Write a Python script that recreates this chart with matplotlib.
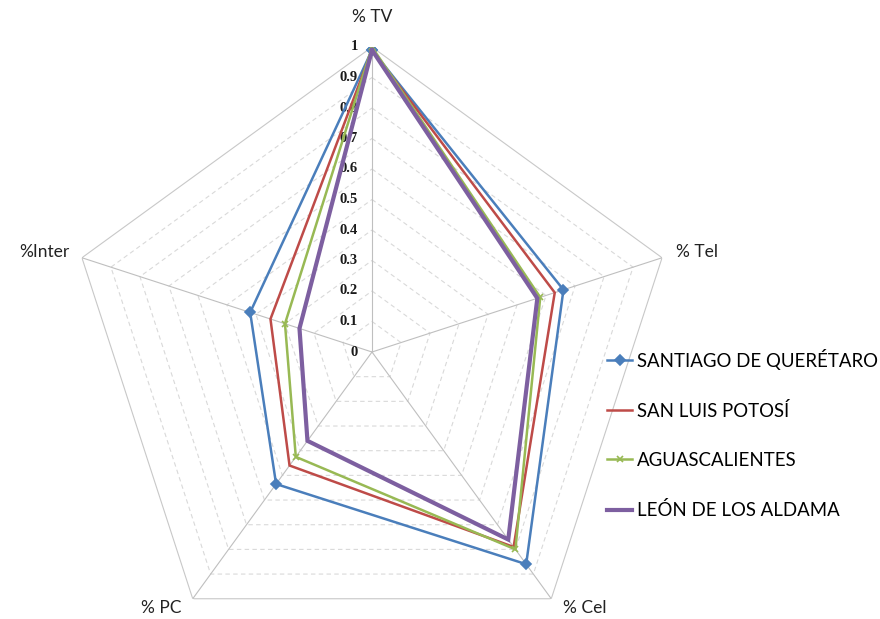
import numpy as np
import matplotlib
matplotlib.use("Agg")
import matplotlib.pyplot as plt

plt.rcParams['font.family'] = ['Lato', 'DejaVu Sans']

# ejes del radar (en sentido horario desde arriba)
categorias = ['% TV', '% Tel', '% Cel', '% PC', '%Inter']

santiago = [0.99, 0.66, 0.86, 0.535, 0.42]
san_luis = [0.99, 0.63, 0.79, 0.46, 0.35]
aguascalientes = [1.0, 0.58, 0.80, 0.425, 0.30]
leon = [0.99, 0.57, 0.76, 0.36, 0.25]

niveles = [0.1, 0.2, 0.3, 0.4, 0.5, 0.6, 0.7, 0.8, 0.9, 1.0]
etiquetas_r = ['0', '0.1', '0.2', '0.3', '0.4', '0.5', '0.6', '0.7', '0.8', '0.9', '1']

fig = plt.figure(figsize=(8.8, 6.19), dpi=100)
# centro en (372, 352) px, radio 305 px
ax = fig.add_axes([67 / 880, (267 - 305) / 619, 610 / 880, 610 / 619], projection='polar')
ax.set_theta_zero_location('N')
ax.set_theta_direction(-1)
ax.set_ylim(0, 1)
ax.grid(False)
ax.set_xticks([])
ax.set_yticks([])
ax.spines['polar'].set_visible(False)
ax.patch.set_visible(False)

n = len(categorias)
ang = np.linspace(0, 2 * np.pi, n, endpoint=False)
ang_c = np.append(ang, ang[0])

# rejilla pentagonal
for lv in niveles:
    if lv < 1.0:
        ax.plot(ang_c, [lv] * (n + 1), color='#D9D9D9', lw=0.8, ls=(0, (4, 3)), zorder=1)
    else:
        ax.plot(ang_c, [lv] * (n + 1), color='#C8C8C8', lw=0.8, zorder=1)
for a in ang:
    ax.plot([a, a], [0, 1], color='#BFBFBF', lw=0.8, zorder=1)

# etiquetas radiales
for i, t in enumerate(etiquetas_r):
    ax.annotate(t, xy=(0, i / 10), xytext=(-14, 0), textcoords='offset pixels',
                ha='right', va='center', fontsize=10.5, fontweight='bold',
                family='Liberation Serif', color='#1a1a1a', annotation_clip=False)

# etiquetas de ejes (desplazamiento en px desde el extremo del eje)
desp = [((0, 30), 'center'), ((35, 6), 'center'), ((33, -9), 'center'),
        ((-31, -9), 'center'), ((-12, 6), 'right')]
for a, lab, (off, ha) in zip(ang, categorias, desp):
    ax.annotate(lab, xy=(a, 1.0), xytext=off, textcoords='offset pixels',
                ha=ha, va='center', fontsize=12.5, color='#222222',
                annotation_clip=False)

series = [
    ('SANTIAGO DE QUERÉTARO', santiago, '#4A7EBB', 1.8, 'D', 5),
    ('SAN LUIS POTOSÍ', san_luis, '#BE4B48', 1.8, None, 0),
    ('AGUASCALIENTES', aguascalientes, '#98B954', 1.8, 'x', 5),
    ('LEÓN DE LOS ALDAMA', leon, '#7D5FA0', 3.0, None, 0),
]
handles = []
for nombre, vals, col, lw, mk, ms in series:
    v = vals + [vals[0]]
    h, = ax.plot(ang_c, v, color=col, lw=lw, marker=mk, ms=ms, mew=1.2,
                 label=nombre, zorder=3, solid_joinstyle='miter')
    handles.append(h)

fig.legend(handles=handles, loc='center left', bbox_to_anchor=(600 / 880, 1 - 434 / 619),
           frameon=False, fontsize=13.4, labelspacing=1.72, handlelength=1.34,
           handletextpad=0.27, borderaxespad=0)

fig.savefig('out.png', dpi=100)
